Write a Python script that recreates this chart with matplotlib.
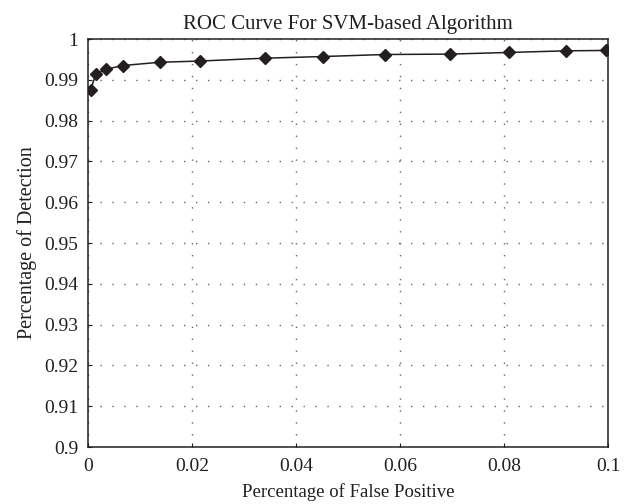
import numpy as np
import matplotlib.pyplot as plt

# ROC points
false_positive = [0.0005, 0.0015, 0.0035, 0.0067, 0.0138, 0.0216, 0.0340,
                  0.0451, 0.0571, 0.0696, 0.0809, 0.0919, 0.0997]
detection = [0.9875, 0.9914, 0.9926, 0.9935, 0.9943, 0.9946, 0.9953,
             0.9957, 0.9962, 0.9963, 0.9967, 0.9971, 0.9972]

x_ticks = [0, 0.02, 0.04, 0.06, 0.08, 0.1]
x_labels = ["0", "0.02", "0.04", "0.06", "0.08", "0.1"]
y_ticks = [0.9, 0.91, 0.92, 0.93, 0.94, 0.95, 0.96, 0.97, 0.98, 0.99, 1.0]
y_labels = ["0.9", "0.91", "0.92", "0.93", "0.94", "0.95", "0.96", "0.97", "0.98", "0.99", "1"]

plt.rcParams['font.family'] = ['Liberation Serif', 'DejaVu Serif']
ink = "#231f20"

fig = plt.figure(figsize=(6.32, 5.04), dpi=100)
ax = fig.add_axes([88 / 632, 1 - 447 / 504, 520 / 632, 408 / 504])

ax.plot(false_positive, detection, color=ink, lw=1.1, marker="D", ms=6,
        markerfacecolor=ink, markeredgecolor=ink, zorder=3)

ax.set_xlim(0, 0.1)
ax.set_ylim(0.9, 1.0)
ax.set_xticks(x_ticks)
ax.set_xticklabels(x_labels)
ax.set_yticks(y_ticks)
ax.set_yticklabels(y_labels)

# dotted grid as in the reference
ax.grid(True, color="#666666", linestyle=(0, (1, 7.6)), linewidth=1.0)
ax.tick_params(direction="in", length=3, width=0.8, colors=ink, labelsize=14)
ax.tick_params(axis="x", pad=8)
ax.tick_params(axis="y", pad=7)
for sp in ax.spines.values():
    sp.set_color(ink)
    sp.set_linewidth(1.1)

ax.set_title("ROC Curve For SVM-based Algorithm", fontsize=15, color=ink, pad=7)
ax.set_xlabel("Percentage of False Positive", fontsize=13.5, color=ink, labelpad=6)
ax.set_ylabel("Percentage of Detection", fontsize=14.5, color=ink, labelpad=5)

fig.savefig("out.png", dpi=100)
